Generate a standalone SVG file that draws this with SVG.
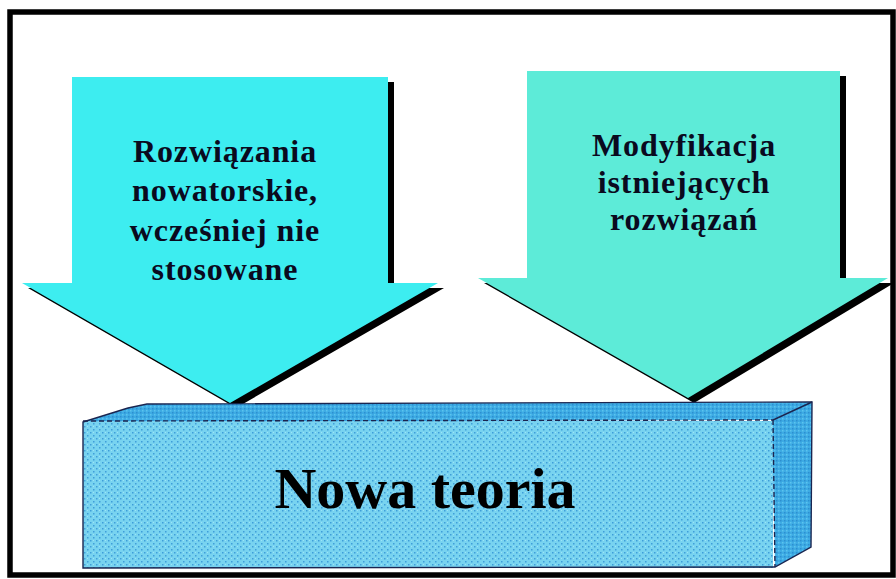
<svg xmlns="http://www.w3.org/2000/svg" width="896" height="579" viewBox="0 0 896 579">
<defs>
<style>
.lbl{font-family:"Liberation Serif","Times New Roman",serif;font-weight:bold;fill:#0a0a1e;text-anchor:middle}
.arrowtxt{font-size:32px;letter-spacing:0.9px}
.shadow{fill:#000}
.edge{fill:none;stroke:#1a2550;stroke-width:1.4}
</style>
<pattern id="tex" width="6" height="6" patternUnits="userSpaceOnUse">
<rect width="6" height="6" fill="#78D3F0"/>
<rect x="0" y="0" width="1.5" height="1.5" fill="#3E9ED9"/>
<rect x="3" y="3" width="1.5" height="1.5" fill="#3E9ED9"/>
<rect x="3" y="0" width="1" height="1" fill="#9FE4F6"/>
</pattern>
<pattern id="tex2" width="4" height="4" patternUnits="userSpaceOnUse">
<rect width="4" height="4" fill="#3DABE4"/>
<rect x="0" y="0" width="1.5" height="1.5" fill="#2C8FD0"/>
<rect x="2" y="2" width="1.5" height="1.5" fill="#5CC4EE"/>
</pattern>
</defs>
<rect width="896" height="579" fill="#fff"/>
<rect x="10" y="12" width="883" height="563" fill="none" stroke="#000" stroke-width="5.5"/>

<g id="connectors">
<g id="arrow-left">
<polygon class="shadow" transform="translate(6,5)" points="72,77 388,77 388,283 438,283 230,403 22,283 72,283"/>
<polygon fill="#3DEDF0" points="72,77 388,77 388,283 438,283 230,403 22,283 72,283"/>
<text class="lbl arrowtxt" x="225" y="162">Rozwiązania</text>
<text class="lbl arrowtxt" x="225" y="201">nowatorskie,</text>
<text class="lbl arrowtxt" x="225" y="241">wcześniej nie</text>
<text class="lbl arrowtxt" x="225" y="280">stosowane</text>
</g>
<g id="arrow-right">
<polygon class="shadow" transform="translate(6,5)" points="527,71 840,71 840,278 888,278 688,398 478,278 527,278"/>
<polygon fill="#5DEBD8" points="527,71 840,71 840,278 888,278 688,398 478,278 527,278"/>
<text class="lbl arrowtxt" x="684" y="156">Modyfikacja</text>
<text class="lbl arrowtxt" x="684" y="193">istniejących</text>
<text class="lbl arrowtxt" x="684" y="230">rozwiązań</text>
</g>
</g>

<g id="nowa-teoria">
<polygon fill="url(#tex2)" points="83,422 128,408 147,404 812,402 772,420"/>
<polygon fill="url(#tex2)" points="772,420 812,402 811,547 775,567"/>
<rect x="83" y="421" width="690" height="147" fill="url(#tex)"/>
<polygon class="edge" points="83,422 128,408 147,404 812,402 811,547 775,567 83,568"/>
<line class="edge" x1="83" y1="421" x2="773" y2="420" stroke-dasharray="5,3"/>
<line class="edge" x1="773" y1="420" x2="812" y2="402"/>
<line class="edge" x1="773" y1="420" x2="775" y2="567" stroke-dasharray="5,3"/>
<text class="lbl" x="425" y="508" font-size="58" style="fill:#000">Nowa teoria</text>
</g>
</svg>
